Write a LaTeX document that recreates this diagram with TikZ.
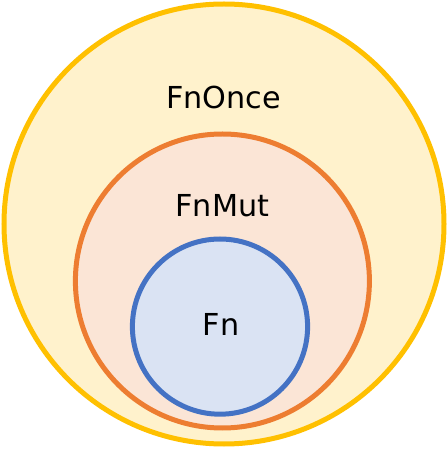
\documentclass[tikz,border=0pt]{standalone}
\usepackage{fontspec}
\setmainfont{DejaVu Sans}
\definecolor{onceline}{HTML}{FFC000}
\definecolor{oncefill}{HTML}{FFF2CC}
\definecolor{mutline}{HTML}{ED7D31}
\definecolor{mutfill}{HTML}{FBE5D6}
\definecolor{fnline}{HTML}{4472C4}
\definecolor{fnfill}{HTML}{DAE3F3}
\tikzset{ring/.style={line width=1.25mm}, lbl/.style={font=\fontsize{21.5}{24}\selectfont, inner sep=0pt}}
\begin{document}
\begin{tikzpicture}
\useasboundingbox (0,0) rectangle (112mm,112.25mm);
\draw[ring, draw=onceline, fill=oncefill] (56mm,56.25mm) circle (55mm);
\draw[ring, draw=mutline, fill=mutfill] (55.6mm,42mm) circle (36.75mm);
\draw[ring, draw=fnline, fill=fnfill] (55mm,30.6mm) circle (21.9mm);

\node[lbl] (once) at (55.9mm,87.9mm) {FnOnce};
\node[lbl] (mut) at (55.6mm,60.9mm) {FnMut};
\node[lbl] (fn) at (55.3mm,31.1mm) {Fn};
\end{tikzpicture}
\end{document}
